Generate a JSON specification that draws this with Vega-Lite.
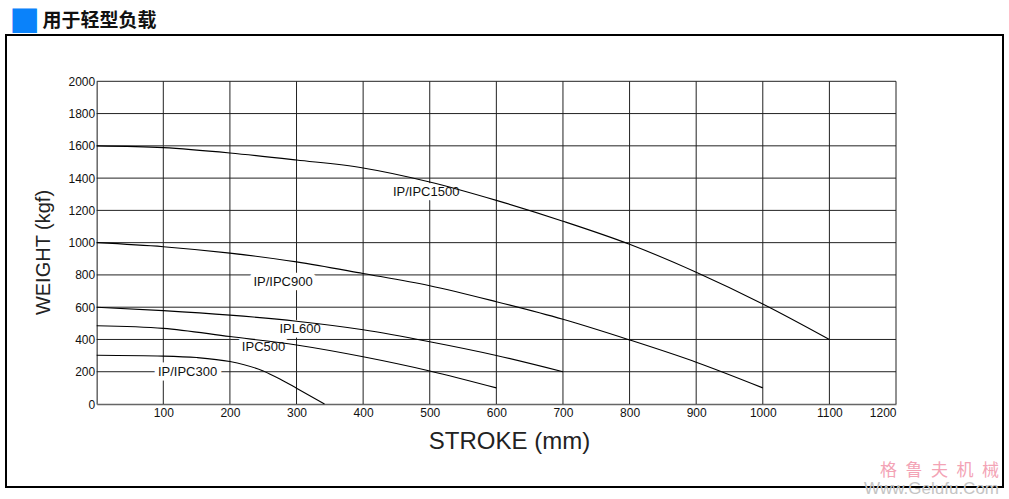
{
  "$schema": "https://vega.github.io/schema/vega-lite/v6.json",
  "width": 997,
  "height": 452,
  "autosize": {"type": "none"},
  "padding": {"left": 6, "top": 35, "right": 6, "bottom": 12},
  "background": "white",
  "config": {"view": {"stroke": "#000", "strokeWidth": 2}, "font": "Liberation Sans"},
  "title": {
    "text": "格\u2002鲁\u2002夫\u2002机\u2002械",
    "subtitle": "Www.Gelufu.Com",
    "orient": "bottom",
    "anchor": "end",
    "offset": -24,
    "dx": -4,
    "font": "Noto Sans CJK SC",
    "fontSize": 17,
    "fontWeight": "normal",
    "color": "#f3a3b5",
    "subtitleFont": "Liberation Sans",
    "subtitleFontSize": 17,
    "subtitleColor": "#c4c4c4",
    "subtitlePadding": 1
  },
  "datasets": {
    "grid_x": [{"v": 100}, {"v": 200}, {"v": 300}, {"v": 400}, {"v": 500}, {"v": 600}, {"v": 700}, {"v": 800}, {"v": 900}, {"v": 1000}, {"v": 1100}, {"v": 1200}],
    "grid_y": [{"v": 200}, {"v": 400}, {"v": 600}, {"v": 800}, {"v": 1000}, {"v": 1200}, {"v": 1400}, {"v": 1600}, {"v": 1800}, {"v": 2000}],
    "curves": [
      {"series": "IP/IPC1500", "stroke": 0, "weight": 1600},
      {"series": "IP/IPC1500", "stroke": 100, "weight": 1589},
      {"series": "IP/IPC1500", "stroke": 200, "weight": 1556},
      {"series": "IP/IPC1500", "stroke": 300, "weight": 1512},
      {"series": "IP/IPC1500", "stroke": 400, "weight": 1463},
      {"series": "IP/IPC1500", "stroke": 500, "weight": 1376},
      {"series": "IP/IPC1500", "stroke": 600, "weight": 1262},
      {"series": "IP/IPC1500", "stroke": 700, "weight": 1133},
      {"series": "IP/IPC1500", "stroke": 800, "weight": 990},
      {"series": "IP/IPC1500", "stroke": 900, "weight": 817},
      {"series": "IP/IPC1500", "stroke": 1000, "weight": 620},
      {"series": "IP/IPC1500", "stroke": 1100, "weight": 400},
      {"series": "IP/IPC900", "stroke": 0, "weight": 1000},
      {"series": "IP/IPC900", "stroke": 100, "weight": 975},
      {"series": "IP/IPC900", "stroke": 200, "weight": 935},
      {"series": "IP/IPC900", "stroke": 300, "weight": 881},
      {"series": "IP/IPC900", "stroke": 400, "weight": 809},
      {"series": "IP/IPC900", "stroke": 500, "weight": 733},
      {"series": "IP/IPC900", "stroke": 600, "weight": 634},
      {"series": "IP/IPC900", "stroke": 700, "weight": 525},
      {"series": "IP/IPC900", "stroke": 800, "weight": 397},
      {"series": "IP/IPC900", "stroke": 900, "weight": 259},
      {"series": "IP/IPC900", "stroke": 1000, "weight": 100},
      {"series": "IPL600", "stroke": 0, "weight": 600},
      {"series": "IPL600", "stroke": 100, "weight": 579},
      {"series": "IPL600", "stroke": 200, "weight": 551},
      {"series": "IPL600", "stroke": 300, "weight": 513},
      {"series": "IPL600", "stroke": 400, "weight": 460},
      {"series": "IPL600", "stroke": 500, "weight": 386},
      {"series": "IPL600", "stroke": 600, "weight": 301},
      {"series": "IPL600", "stroke": 700, "weight": 200},
      {"series": "IPC500", "stroke": 0, "weight": 485},
      {"series": "IPC500", "stroke": 100, "weight": 469},
      {"series": "IPC500", "stroke": 200, "weight": 418},
      {"series": "IPC500", "stroke": 300, "weight": 366},
      {"series": "IPC500", "stroke": 400, "weight": 293},
      {"series": "IPC500", "stroke": 500, "weight": 205},
      {"series": "IPC500", "stroke": 600, "weight": 100},
      {"series": "IP/IPC300", "stroke": 0, "weight": 302},
      {"series": "IP/IPC300", "stroke": 100, "weight": 297},
      {"series": "IP/IPC300", "stroke": 150, "weight": 288},
      {"series": "IP/IPC300", "stroke": 200, "weight": 263},
      {"series": "IP/IPC300", "stroke": 250, "weight": 205},
      {"series": "IP/IPC300", "stroke": 275, "weight": 155},
      {"series": "IP/IPC300", "stroke": 300, "weight": 98},
      {"series": "IP/IPC300", "stroke": 342, "weight": 0}
    ],
    "labels": [
      {"label": "IP/IPC1500", "x": 494.6, "y": 1314},
      {"label": "IP/IPC900", "x": 279.7, "y": 756},
      {"label": "IPL600", "x": 305.3, "y": 465},
      {"label": "IPC500", "x": 250.5, "y": 353},
      {"label": "IP/IPC300", "x": 136.4, "y": 201}
    ]
  },
  "layer": [
    {
      "data": {"name": "grid_x"},
      "mark": {"type": "rule", "color": "#222", "strokeWidth": 1},
      "encoding": {
        "x": {
          "field": "v", "type": "quantitative",
          "scale": {"domain": [0, 1200], "range": [90.7, 890], "nice": false, "zero": false},
          "axis": {
            "orient": "top", "labels": false, "ticks": false, "domain": false, "grid": false,
            "title": "用于轻型负载", "titleFont": "Noto Sans CJK SC", "titleFontSize": 19,
            "titleFontWeight": "bold", "titleColor": "#111", "titleAlign": "left",
            "titleBaseline": "middle", "titleAngle": 0, "titleX": 36, "titleY": -15
          }
        },
        "y": {"datum": 0, "type": "quantitative", "axis": null},
        "y2": {"datum": 2000}
      }
    },
    {
      "data": {"name": "grid_y"},
      "mark": {"type": "rule", "color": "#222", "strokeWidth": 1},
      "encoding": {
        "y": {
          "field": "v", "type": "quantitative",
          "scale": {"domain": [0, 2000], "range": [369, 46.3], "nice": false, "zero": false},
          "axis": {
            "orient": "right", "labels": false, "ticks": false, "domain": false, "grid": false,
            "title": "■", "titleFont": "DejaVu Sans", "titleFontSize": 32, "titleColor": "#0a82fa",
            "titleAngle": 0, "titleAlign": "center", "titleBaseline": "middle",
            "titleX": -979, "titleY": -16.5
          }
        },
        "x": {"datum": 0, "type": "quantitative", "axis": null},
        "x2": {"datum": 1200}
      }
    },
    {
      "data": {"name": "labels"},
      "mark": {"type": "text", "fontSize": 13, "fill": "white", "stroke": "white", "strokeWidth": 9, "strokeJoin": "round", "align": "center", "baseline": "middle"},
      "encoding": {
        "x": {"field": "x", "type": "quantitative", "axis": null},
        "y": {"field": "y", "type": "quantitative", "axis": null},
        "text": {"field": "label"}
      }
    },
    {
      "data": {"name": "curves"},
      "mark": {"type": "line", "color": "#000", "strokeWidth": 1.1, "interpolate": "monotone"},
      "encoding": {
        "x": {
          "field": "stroke", "type": "quantitative",
          "axis": {
            "orient": "bottom", "offset": -83, "values": [100, 200, 300, 400, 500, 600, 700, 800, 900, 1000, 1100, 1200],
            "format": "d",
            "grid": false, "ticks": false, "tickSize": 0, "domainColor": "#666", "domainWidth": 1.5,
            "labelFontSize": 12, "labelColor": "#111", "labelPadding": 3,
            "title": "STROKE (mm)", "titleFontSize": 24, "titleFontWeight": "normal", "titleColor": "#222",
            "titleAlign": "center", "titleBaseline": "alphabetic", "titleX": 503, "titleY": 44
          }
        },
        "y": {
          "field": "weight", "type": "quantitative",
          "axis": {
            "orient": "left", "offset": -90.7, "values": [0, 200, 400, 600, 800, 1000, 1200, 1400, 1600, 1800, 2000],
            "format": "d",
            "grid": false, "ticks": false, "tickSize": 0, "domainColor": "#666", "domainWidth": 1.5,
            "labelFontSize": 12, "labelColor": "#111", "labelPadding": 2,
            "title": "WEIGHT (kgf)", "titleFont": "Liberation Sans", "titleFontSize": 20, "titleFontWeight": "normal",
            "titleColor": "#222", "titleAngle": -90, "titleAlign": "center", "titleBaseline": "alphabetic",
            "titleX": -47, "titleY": 217
          }
        },
        "detail": {"field": "series"}
      }
    },
    {
      "data": {"name": "labels"},
      "mark": {"type": "text", "fontSize": 13, "color": "#111", "align": "center", "baseline": "middle"},
      "encoding": {
        "x": {"field": "x", "type": "quantitative", "axis": null},
        "y": {"field": "y", "type": "quantitative", "axis": null},
        "text": {"field": "label"}
      }
    }
  ],
  "resolve": {"axis": {"x": "independent", "y": "independent"}}
}
